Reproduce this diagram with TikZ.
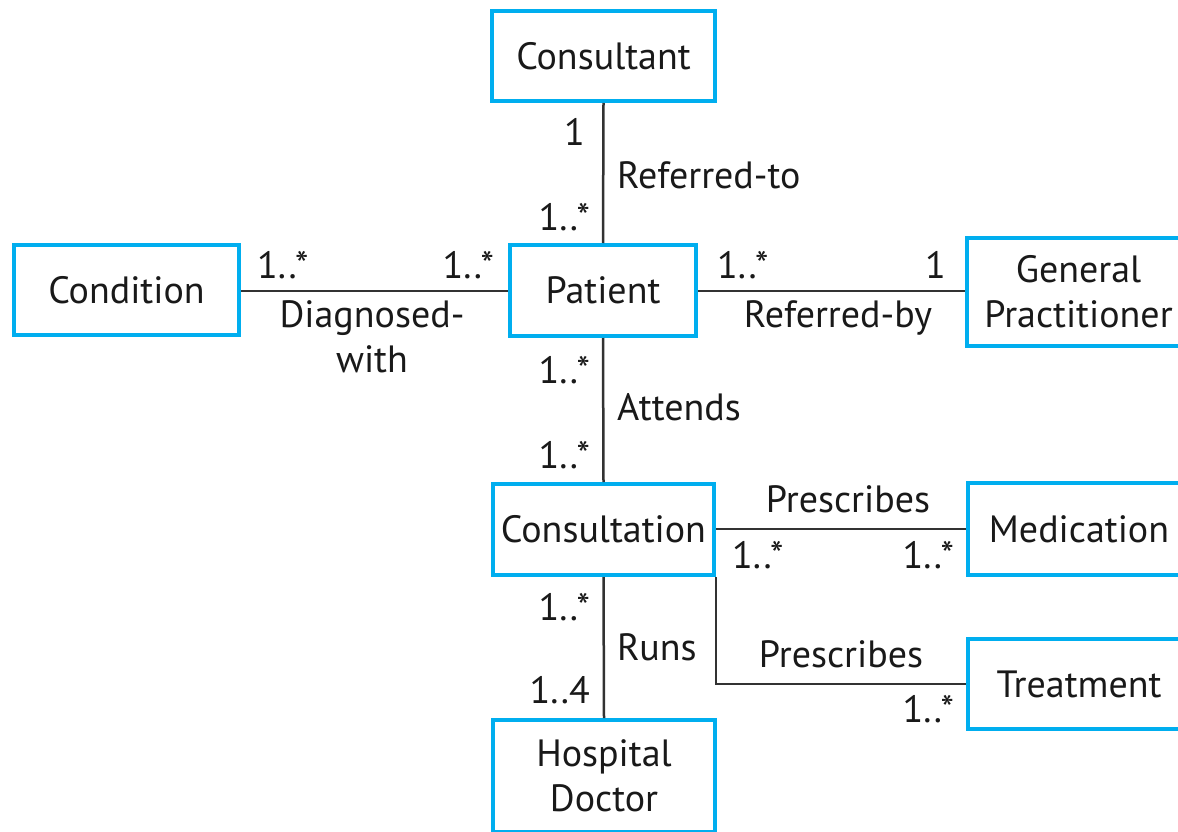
\documentclass[tikz,border=0pt]{standalone}
\usepackage{fontspec}
\setmainfont{PT Sans}
\definecolor{boxblue}{RGB}{0,174,239}
\definecolor{linegray}{RGB}{50,50,50}
\begin{document}
\begin{tikzpicture}[x=1pt,y=-1pt,
  every node/.style={font=\fontsize{38}{45}\selectfont, text=black!90},
  cls/.style={draw=boxblue, line width=4pt, fill=white, inner sep=0pt, align=center},
  assoc/.style={draw=linegray, line width=2.5pt},
  lbl/.style={inner sep=0pt}]
\clip (0,0) rectangle (1178,832);
\useasboundingbox (0,0) rectangle (1178,832);
\fill[white] (0,0) rectangle (1178,832);

% classes
\node[cls, minimum width=223pt, minimum height=90pt] (consultant) at (603.5,56) {Consultant};
\node[cls, minimum width=186pt, minimum height=91pt] (patient) at (603,290.5) {Patient};
\node[cls, minimum width=225pt, minimum height=90pt] (condition) at (126.5,290) {Condition};
\node[cls, minimum width=223pt, minimum height=108pt] (gp) at (1078.5,292) {General\\Practitioner};
\node[cls, minimum width=221pt, minimum height=91pt] (consultation) at (603.5,529.5) {Consultation};
\node[cls, minimum width=222pt, minimum height=92pt] (medication) at (1079,529) {Medication};
\node[cls, minimum width=222pt, minimum height=90pt] (treatment) at (1079,684) {Treatment};
\node[cls, minimum width=222pt, minimum height=112pt] (doctor) at (604,776) {Hospital\\Doctor};

% associations
\draw[assoc] (consultant.south) -- (patient.north);
\draw[assoc] (condition.east |- 0,291) -- (patient.west |- 0,291);
\draw[assoc] (patient.east |- 0,291) -- (gp.west |- 0,291);
\draw[assoc] (patient.south) -- (consultation.north);
\draw[assoc] (consultation.east |- 0,529) -- (medication.west |- 0,529);
\draw[assoc] (consultation.south east) |- (treatment.west);
\draw[assoc] (consultation.south) -- (doctor.north);

% labels
\node[lbl, anchor=base east] (m1) at (585,146) {1};
\node[lbl, anchor=base east] (m2) at (590,230) {1..*};
\node[lbl, anchor=base west] (l1) at (617,188) {Referred-to};
\node[lbl, anchor=base west] (m3) at (257,278) {1..*};
\node[lbl, anchor=base east] (m4) at (494,278) {1..*};
\node[lbl, anchor=north, align=center] (l2) at (372,300) {Diagnosed-\\with};
\node[lbl, anchor=base west] (m5) at (717,278) {1..*};
\node[lbl, anchor=base east] (m6) at (946,278) {1};
\node[lbl, anchor=base] (l3) at (838,327) {Referred-by};
\node[lbl, anchor=base east] (m7) at (590,383) {1..*};
\node[lbl, anchor=base west] (l4) at (617,420) {Attends};
\node[lbl, anchor=base east] (m8) at (590,468) {1..*};
\node[lbl, anchor=base] (l5) at (848,512) {Prescribes};
\node[lbl, anchor=base west] (m9) at (732,568) {1..*};
\node[lbl, anchor=base east] (m10) at (954,568) {1..*};
\node[lbl, anchor=base east] (m11) at (590,620) {1..*};
\node[lbl, anchor=base west] (l6) at (617,660) {Runs};
\node[lbl, anchor=base] (l7) at (841,667) {Prescribes};
\node[lbl, anchor=base east] (m12) at (590,703) {1..4};
\node[lbl, anchor=base east] (m13) at (954,722) {1..*};
\end{tikzpicture}
\end{document}
